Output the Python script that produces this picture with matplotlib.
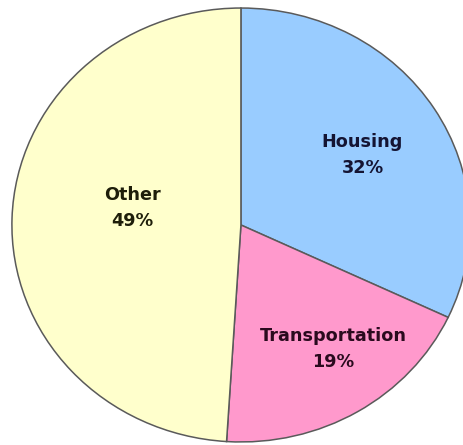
import matplotlib
matplotlib.use('Agg')
import numpy as np
import matplotlib.pyplot as plt

# data
categories = ['Housing', 'Transportation', 'Other']
shares = [32, 19, 49]
colours = ['#99ccff', '#ff99cc', '#ffffcc']
text_colours = ['#141433', '#2a0a1e', '#1e1e0a']
# label placement: radius and angle shift (deg) from the wedge middle
label_r = [0.62, 0.70, 0.48]
label_shift = [-1.2, 4.6, -7.5]

fig = plt.figure(figsize=(4.64, 4.45), dpi=100)
ax = fig.add_axes([0, 0, 1, 1])
wedges, _ = ax.pie(shares, colors=colours, startangle=90, counterclock=False,
                   wedgeprops=dict(edgecolor='#5a5a5a', linewidth=1.1))
ax.set_aspect('auto')
# slightly squashed ellipse, cut off at the right edge like the source image
ax.set_xlim(-1.052, 0.974)
ax.set_ylim(-1.014, 1.037)
ax.axis('off')

for w, name, pct, r, sh, tc in zip(wedges, categories, shares, label_r, label_shift, text_colours):
    mid = np.deg2rad((w.theta1 + w.theta2) / 2 + sh)
    ax.text(r * np.cos(mid), r * np.sin(mid), '%s\n%d%%' % (name, pct),
            ha='center', va='center', fontsize=12.7, fontweight='bold',
            family='DejaVu Sans', color=tc, linespacing=1.55)

plt.savefig('out.png', dpi=100)
